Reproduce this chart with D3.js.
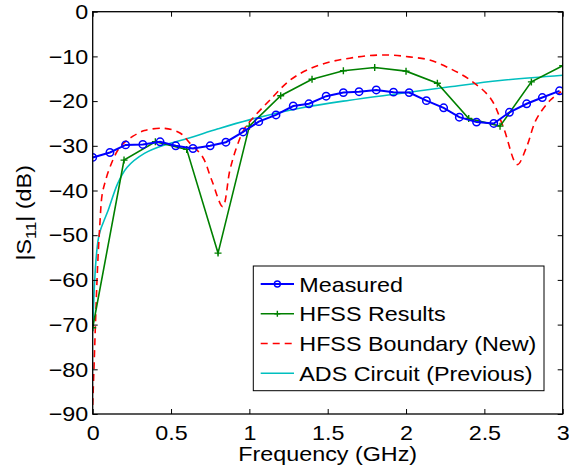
<!DOCTYPE html>
<html>
<head>
<meta charset="utf-8">
<script src="https://cdn.jsdelivr.net/npm/d3@7"></script>
<style>
  html, body { margin: 0; padding: 0; background: #fff; }
  svg { display: block; font-family: "Liberation Sans", Arial, Helvetica, sans-serif; }
</style>
</head>
<body>
<svg id="chart" width="569" height="471"></svg>
<script>
// ---------- data ----------
const xTicks = [0, 0.5, 1, 1.5, 2, 2.5, 3];
const xTickLabels = ["0", "0.5", "1", "1.5", "2", "2.5", "3"];
const yTicks = [0, -10, -20, -30, -40, -50, -60, -70, -80, -90];

const measuredFreq = [0, 0.11, 0.21, 0.32, 0.43, 0.53, 0.64, 0.75, 0.85, 0.96, 1.06, 1.17, 1.28, 1.38, 1.49,
  1.60, 1.70, 1.81, 1.92, 2.02, 2.13, 2.24, 2.34, 2.45, 2.56, 2.66, 2.77, 2.87, 2.98];
const measuredS11 = [-32.6, -31.5, -29.8, -29.7, -29.1, -30.0, -30.6, -30.0, -29.2, -26.9, -24.6, -23.1, -21.1, -20.6, -18.9,
  -18.1, -17.9, -17.5, -18.0, -18.1, -19.9, -21.5, -23.6, -24.7, -25.0, -22.5, -20.6, -19.2, -17.7];

const hfssFreq = [0, 0.2, 0.4, 0.6, 0.8, 1.0, 1.2, 1.4, 1.6, 1.8, 2.0, 2.2, 2.4, 2.6, 2.8, 3.0];
const hfssS11 = [-70.7, -33.2, -29.1, -30.8, -54.0, -25.6, -18.8, -15.1, -13.2, -12.5, -13.3, -16.0, -23.9, -25.6, -15.7, -12.1];

const boundaryFreq = [0.0, 0.008, 0.017, 0.03, 0.045, 0.06, 0.08, 0.11, 0.16, 0.21, 0.25, 0.33, 0.46, 0.56, 0.62, 0.70, 0.76, 0.83,
  0.876, 0.92, 0.97, 1.03, 1.13, 1.26, 1.39, 1.52, 1.64, 1.77, 1.9, 2.02, 2.15, 2.28, 2.41, 2.54, 2.62, 2.71, 2.77, 2.83, 2.92, 2.99];
const boundaryS11 = [-88, -80, -70.5, -58, -48, -41, -38, -34.8, -31, -29, -28.0, -26.6, -26.1, -27.2, -29.4, -32.4, -37.7, -43.6,
  -35.4, -30.2, -26.1, -23.5, -19.8, -15.3, -12.7, -11.2, -10.4, -9.8, -9.7, -10.1, -10.8, -12.7, -15.3, -19.4, -25.7, -34.2, -30.2, -24.2, -19.8, -17.9];

const adsFreq = [0, 0.01, 0.02, 0.035, 0.05, 0.075, 0.1, 0.16, 0.22, 0.33, 0.46, 0.61, 0.8, 1.0, 1.32, 1.64, 1.96, 2.28, 2.6, 3.0];
const adsS11 = [-71.5, -62, -56, -51, -48.8, -46.5, -44.3, -38.4, -34.8, -31.7, -29.8, -28.3, -26.2, -24.2, -21.6, -19.8, -18.3, -16.8, -15.4, -14.2];

const seriesNames = ["Measured", "HFSS Results", "HFSS Boundary (New)", "ADS Circuit (Previous)"];

// ---------- layout ----------
const svg = d3.select("#chart");
const L = 92.7, R = 562.7, T = 11.7, B = 414;
const x = d3.scaleLinear().domain([0, 3]).range([L, R]);
const y = d3.scaleLinear().domain([-90, 0]).range([B, T]);
const FS = 21;
const STRETCH = 1.11;

svg.append("defs").append("clipPath").attr("id", "clip")
  .append("rect").attr("x", L).attr("y", T).attr("width", R - L).attr("height", B - T);

const zip = (a, b) => a.map((v, i) => [v, b[i]]);
const lineStraight = d3.line().x(d => x(d[0])).y(d => y(d[1]));
const lineSmooth = d3.line().x(d => x(d[0])).y(d => y(d[1])).curve(d3.curveCatmullRom.alpha(0.5));

const plot = svg.append("g").attr("clip-path", "url(#clip)");

// ADS (cyan)
plot.append("path").datum(zip(adsFreq, adsS11))
  .attr("d", lineSmooth).attr("fill", "none").attr("stroke", "#00bfbf").attr("stroke-width", 1.6);

// HFSS Boundary (red dashed)
plot.append("path").datum(zip(boundaryFreq, boundaryS11))
  .attr("d", lineSmooth).attr("fill", "none").attr("stroke", "#ff0000").attr("stroke-width", 1.6)
  .attr("stroke-dasharray", "7,5");

// HFSS Results (green, + markers)
const hfssData = zip(hfssFreq, hfssS11);
plot.append("path").datum(hfssData)
  .attr("d", lineStraight).attr("fill", "none").attr("stroke", "#008000").attr("stroke-width", 1.6);
const plus = (g, px, py, s, color) => {
  g.append("path").attr("d", `M${px - s},${py}H${px + s}M${px},${py - s}V${py + s}`)
    .attr("stroke", color).attr("stroke-width", 1.4).attr("fill", "none");
};
hfssData.forEach(d => plus(plot, x(d[0]), y(d[1]), 3.5, "#008000"));

// Measured (blue, circles)
const measData = zip(measuredFreq, measuredS11);
plot.append("path").datum(measData)
  .attr("d", lineStraight).attr("fill", "none").attr("stroke", "#0000ff").attr("stroke-width", 2);
plot.selectAll("circle.meas").data(measData).enter().append("circle")
  .attr("class", "meas")
  .attr("cx", d => x(d[0])).attr("cy", d => y(d[1])).attr("r", 3.7)
  .attr("fill", "none").attr("stroke", "#0000ff").attr("stroke-width", 1.5);

// ---------- axes ----------
const styleAxis = g => {
  g.select(".domain").remove();
  g.selectAll(".tick line").attr("stroke", "#000").attr("stroke-width", 1);
  g.selectAll("text").attr("font-size", FS).attr("fill", "#000")
    .attr("font-family", "'Liberation Sans', Arial, sans-serif");
};
svg.append("g").attr("transform", `translate(0,${B})`)
  .call(d3.axisBottom(x).tickValues(xTicks).tickFormat((d, i) => xTickLabels[i]).tickSizeInner(-5).tickSizeOuter(0).tickPadding(11))
  .call(styleAxis);
svg.append("g").attr("transform", `translate(0,${T})`)
  .call(d3.axisTop(x).tickValues(xTicks).tickFormat("").tickSizeInner(-5).tickSizeOuter(0))
  .call(styleAxis);
svg.append("g").attr("transform", `translate(${L},0)`)
  .call(d3.axisLeft(y).tickValues(yTicks).tickFormat(d3.format("d")).tickSizeInner(-5).tickSizeOuter(0).tickPadding(4.5))
  .call(styleAxis);
svg.append("g").attr("transform", `translate(${R},0)`)
  .call(d3.axisRight(y).tickValues(yTicks).tickFormat("").tickSizeInner(-5).tickSizeOuter(0))
  .call(styleAxis);

// frame
svg.append("rect").attr("x", L).attr("y", T).attr("width", R - L).attr("height", B - T)
  .attr("fill", "none").attr("stroke", "#000").attr("stroke-width", 1.3);

// axis labels
svg.append("text").attr("x", (L + R) / 2).attr("y", 461).attr("text-anchor", "middle")
  .attr("font-size", FS).attr("fill", "#000").text("Frequency (GHz)");

const yl = svg.append("text").attr("transform", `translate(31,${(T + B) / 2}) rotate(-90)`)
  .attr("text-anchor", "middle").attr("font-size", FS).attr("fill", "#000");
yl.append("tspan").text("|S");
yl.append("tspan").attr("font-size", 15).attr("dy", 5).text("11");
yl.append("tspan").attr("dy", -5).text("| (dB)");

// ---------- legend ----------
const lg = svg.append("g");
const lx0 = 253.3, ly0 = 266, lw = 290.7, lh = 124.7;
lg.append("rect").attr("x", lx0).attr("y", ly0).attr("width", lw).attr("height", lh)
  .attr("fill", "#fff").attr("stroke", "#000").attr("stroke-width", 1);
const rowY = [284, 313.7, 343.5, 373.3];
const sx0 = 260.7, sx1 = 294, sxm = (sx0 + sx1) / 2;
const styles = [
  { color: "#0000ff", w: 2, dash: null },
  { color: "#008000", w: 1.6, dash: null },
  { color: "#ff0000", w: 1.6, dash: "7,5" },
  { color: "#00bfbf", w: 1.6, dash: null }
];
seriesNames.forEach((name, i) => {
  const s = styles[i];
  const ln = lg.append("line").attr("x1", sx0).attr("x2", sx1).attr("y1", rowY[i]).attr("y2", rowY[i])
    .attr("stroke", s.color).attr("stroke-width", s.w);
  if (s.dash) ln.attr("stroke-dasharray", s.dash);
  if (i === 0) lg.append("circle").attr("cx", sxm).attr("cy", rowY[i]).attr("r", 3)
    .attr("fill", "none").attr("stroke", s.color).attr("stroke-width", 1.4);
  if (i === 1) plus(lg, sxm, rowY[i], 3, s.color);
  lg.append("text").attr("x", 299.3).attr("y", rowY[i]).attr("dy", "0.36em")
    .attr("font-size", FS).attr("fill", "#000").text(name);
});

// widen glyphs to match the reference's wider typeface
svg.selectAll("text").each(function () {
  const t = this.textContent;
  if (!t) return;
  const w = this.getComputedTextLength();
  if (w > 0) d3.select(this).attr("textLength", w * STRETCH).attr("lengthAdjust", "spacingAndGlyphs");
});
</script>
</body>
</html>
